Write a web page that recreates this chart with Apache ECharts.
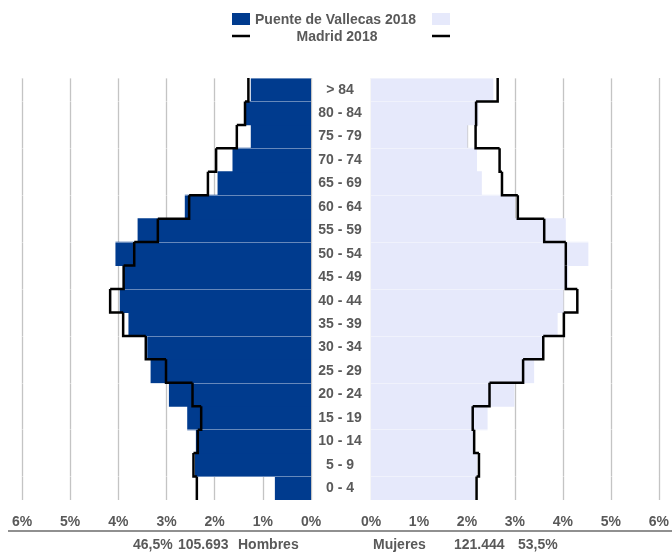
<!DOCTYPE html>
<html>
<head>
<meta charset="utf-8">
<script src="https://cdn.jsdelivr.net/npm/echarts@6/dist/echarts.min.js"></script>
<style>
html,body{margin:0;padding:0;background:#fff;}
#chart{width:672px;height:553px;}
</style>
</head>
<body>
<div id="chart"></div>
<script>
// Age groups, bottom to top
const ageGroups = ['0 - 4','5 - 9','10 - 14','15 - 19','20 - 24','25 - 29','30 - 34','35 - 39','40 - 44','45 - 49','50 - 54','55 - 59','60 - 64','65 - 69','70 - 74','75 - 79','80 - 84','> 84'];
// Puente de Vallecas 2018 (% of total population)
const menVallecas   = [0.75,2.41,2.39,2.57,2.95,3.33,3.40,3.79,3.97,3.88,4.06,3.60,2.62,1.94,1.63,1.25,1.36,1.25];
const womenVallecas = [2.17,2.21,2.14,2.43,2.99,3.40,3.58,3.89,4.01,4.11,4.53,4.06,3.00,2.31,2.21,2.01,2.24,2.55];
// Madrid 2018 (% of total population)
const menMadrid     = [2.37,2.44,2.35,2.28,2.46,3.01,3.43,3.90,4.17,3.89,3.67,3.18,2.53,2.14,1.97,1.54,1.37,1.30];
const womenMadrid   = [2.20,2.25,2.15,2.12,2.47,3.17,3.59,4.02,4.30,4.06,4.06,3.61,3.06,2.73,2.68,2.18,2.19,2.64];
// Axis ticks (percent)
const tickValues = [0,1,2,3,4,5,6];
// Totals
const menTotals = ['46,5%','105.693','Hombres'];
const womenTotals = ['Mujeres','121.444','53,5%'];
const legendNames = ['Puente de Vallecas 2018','Madrid 2018'];

const FONT = '"Liberation Sans", Arial, sans-serif';
const GRAY = '#595959';
const BLUE = '#003B8E';
const LAV = '#E6E9FB';

function stepSeries(values, xi, yi) {
  return {
    type: 'custom',
    xAxisIndex: xi, yAxisIndex: yi,
    z: 5,
    encode: {x: 0, y: 1},
    data: values.map((v, i) => [v, ageGroups[i]]),
    renderItem: function (params, api) {
      const i = params.dataIndex;
      const p = api.coord([api.value(0), i]);
      const h = api.size([0, 1])[1];
      const top = p[1] - h / 2, bottom = p[1] + h / 2;
      const pts = [[p[0], top], [p[0], bottom]];
      if (i > 0) {
        const q = api.coord([values[i - 1], i - 1]);
        pts.push([q[0], bottom]);
      }
      return {type: 'polyline', shape: {points: pts}, style: {stroke: '#000', lineWidth: 2.5, fill: null}};
    }
  };
}

const chart = echarts.init(document.getElementById('chart'));
const xCommon = {
  type: 'value', min: 0, max: 6, interval: 1,
  axisLine: {show: false}, axisTick: {show: false},
  axisLabel: {formatter: v => tickValues.includes(v) ? v + '%' : '', fontFamily: FONT, fontSize: 14, fontWeight: 'bold', color: GRAY, margin: 15},
  splitLine: {show: true, lineStyle: {color: '#C4C4C4', width: 1.3}}
};
const yCommon = {
  type: 'category', data: ageGroups,
  axisLine: {show: false}, axisTick: {show: false},
  splitLine: {show: true, interval: (idx) => idx % 2 === 1, lineStyle: {color: 'rgba(255,255,255,0.4)', width: 1}},
  z: 4
};
chart.setOption({
  animation: false,
  backgroundColor: '#fff',
  grid: [
    {left: 22, right: 361, top: 78, bottom: 53},
    {left: 371, right: 12, top: 78, bottom: 53}
  ],
  xAxis: [
    Object.assign({}, xCommon, {gridIndex: 0, inverse: true}),
    Object.assign({}, xCommon, {gridIndex: 1})
  ],
  yAxis: [
    Object.assign({}, yCommon, {gridIndex: 0, position: 'right',
      axisLabel: {show: true, align: 'center', margin: 29, fontFamily: FONT, fontSize: 14, fontWeight: 'bold', color: GRAY}}),
    Object.assign({}, yCommon, {gridIndex: 1, axisLabel: {show: false}})
  ],
  series: [
    {type: 'bar', xAxisIndex: 0, yAxisIndex: 0, data: menVallecas, barWidth: '104%', itemStyle: {color: BLUE}, z: 2},
    {type: 'bar', xAxisIndex: 1, yAxisIndex: 1, data: womenVallecas, barWidth: '104%', itemStyle: {color: LAV}, z: 2},
    stepSeries(menMadrid, 0, 0),
    stepSeries(womenMadrid, 1, 1)
  ],
  graphic: [
    {type: 'rect', shape: {x: 232, y: 13, width: 18, height: 12}, style: {fill: BLUE}},
    {type: 'text', x: 255, y: 20, style: {text: legendNames[0], font: 'bold 14px ' + FONT, fill: GRAY, textVerticalAlign: 'middle'}},
    {type: 'rect', shape: {x: 432, y: 13, width: 18, height: 12}, style: {fill: LAV}},
    {type: 'line', shape: {x1: 232, y1: 36, x2: 250, y2: 36}, style: {stroke: '#000', lineWidth: 2.5}},
    {type: 'text', x: 337, y: 37, style: {text: legendNames[1], font: 'bold 14px ' + FONT, fill: GRAY, textAlign: 'center', textVerticalAlign: 'middle'}},
    {type: 'line', shape: {x1: 432, y1: 36, x2: 450, y2: 36}, style: {stroke: '#000', lineWidth: 2.5}},
    {type: 'line', shape: {x1: 8, y1: 531, x2: 672, y2: 531}, style: {stroke: '#6b6b6b', lineWidth: 1.5}},
    {type: 'text', x: 133, y: 545, style: {text: menTotals[0], font: 'bold 14px ' + FONT, fill: GRAY, textVerticalAlign: 'middle'}},
    {type: 'text', x: 178, y: 545, style: {text: menTotals[1], font: 'bold 14px ' + FONT, fill: GRAY, textVerticalAlign: 'middle'}},
    {type: 'text', x: 238, y: 545, style: {text: menTotals[2], font: 'bold 14px ' + FONT, fill: GRAY, textVerticalAlign: 'middle'}},
    {type: 'text', x: 373, y: 545, style: {text: womenTotals[0], font: 'bold 14px ' + FONT, fill: GRAY, textVerticalAlign: 'middle'}},
    {type: 'text', x: 454, y: 545, style: {text: womenTotals[1], font: 'bold 14px ' + FONT, fill: GRAY, textVerticalAlign: 'middle'}},
    {type: 'text', x: 518, y: 545, style: {text: womenTotals[2], font: 'bold 14px ' + FONT, fill: GRAY, textVerticalAlign: 'middle'}}
  ]
});
</script>
</body>
</html>
